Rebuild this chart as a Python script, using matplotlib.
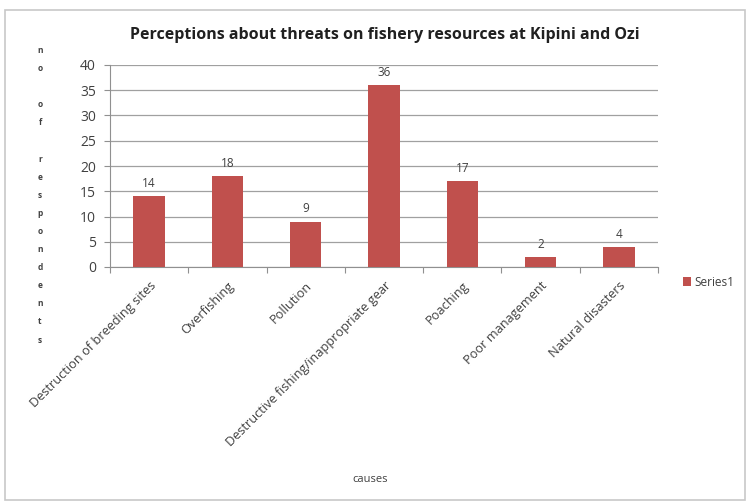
import matplotlib
matplotlib.use('Agg')
import matplotlib.pyplot as plt
from matplotlib.patches import Rectangle

causes = ['Destruction of breeding sites', 'Overfishing', 'Pollution',
          'Destructive fishing/inappropriate gear', 'Poaching',
          'Poor management', 'Natural disasters']
respondents = [14, 18, 9, 36, 17, 2, 4]
yticks = [0, 5, 10, 15, 20, 25, 30, 35, 40]

plt.rcParams['font.family'] = ['Open Sans', 'DejaVu Sans']
bar_color = '#C0504D'
text_color = '#404040'

fig = plt.figure(figsize=(7.5, 5.04), dpi=100)
W, H = 750, 504

# outer chart frame
fig.patches.append(Rectangle((5 / W, 1 - 500 / H), 740 / W, 490 / H,
                             transform=fig.transFigure, fill=False,
                             edgecolor='#c8c8c8', linewidth=1.2))

ax = fig.add_axes([110 / W, 1 - 267 / H, 548 / W, 202 / H])
x = range(len(causes))
bars = ax.bar(x, respondents, width=0.4, color=bar_color, zorder=3)
for b, v in zip(bars, respondents):
    ax.text(b.get_x() + b.get_width() / 2, v + 1.2, str(v),
            ha='center', va='bottom', fontsize=8.5, color=text_color)

ax.set_xlim(-0.5, len(causes) - 0.5)
ax.set_ylim(0, 40)
ax.set_yticks(yticks)
ax.set_yticklabels([str(t) for t in yticks], fontsize=10, color=text_color)
ax.yaxis.grid(True, color='#a0a0a0', linewidth=0.9, zorder=0)
ax.set_xticks([i - 0.5 for i in range(len(causes) + 1)], minor=False)
ax.set_xticklabels([])
ax.set_xticks(list(x), minor=True)
ax.set_xticklabels(causes, minor=True, rotation=45, ha='right',
                   rotation_mode='anchor', fontsize=9.2, color=text_color)
ax.tick_params(axis='x', which='minor', length=0, pad=9)
ax.tick_params(axis='x', which='major', length=4, color='#909090')
ax.tick_params(axis='y', length=4, color='#909090', pad=6)
for side in ['top', 'right']:
    ax.spines[side].set_visible(False)
for side in ['left', 'bottom']:
    ax.spines[side].set_color('#909090')

fig.text(0.5 + 10 / W, 1 - 35 / H,
         'Perceptions about threats on fishery resources at Kipini and Ozi',
         ha='center', va='center', fontsize=11.5, fontweight='bold',
         color='#202020')

# y label drawn as stacked letters
ylabel = 'no of respondents'
fig.text(40 / W, 1 - 46 / H, '\n'.join(ylabel), ha='center', va='top',
         fontsize=6, fontweight='bold', color=text_color, linespacing=2.3)

fig.text(370 / W, 1 - 480 / H, 'causes', ha='center', va='center',
         fontsize=8, color=text_color)

ax.legend([bars[0]], ['Series1'], loc='center left',
          bbox_to_anchor=(672 / W, 1 - 282 / H),
          bbox_transform=fig.transFigure, frameon=False, fontsize=8.5,
          handlelength=0.7, handleheight=0.7, handletextpad=0.3,
          labelcolor=text_color)

fig.savefig('out.png', dpi=100)
